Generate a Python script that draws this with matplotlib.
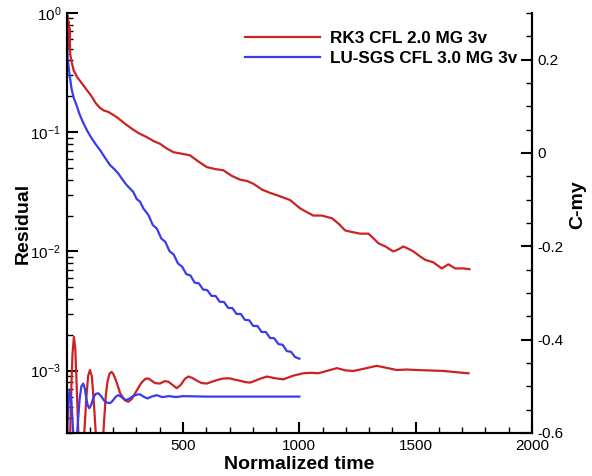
import matplotlib
matplotlib.use("Agg")
import matplotlib.pyplot as plt
from matplotlib.ticker import FixedLocator, LogLocator, MultipleLocator, FuncFormatter, NullFormatter, LogFormatterMathtext

plt.rcParams['font.family'] = ['Liberation Sans', 'DejaVu Sans']
plt.rcParams['mathtext.fontset'] = 'custom'
plt.rcParams['mathtext.rm'] = 'Liberation Sans'
plt.rcParams['mathtext.it'] = 'Liberation Sans'
plt.rcParams['mathtext.bf'] = 'Liberation Sans:bold'
plt.rcParams['axes.unicode_minus'] = False

# ---------------- data ----------------
rk3_res_t = [0, 2, 4, 6, 8, 10, 12, 15, 21, 30, 45, 60, 80, 107, 125, 143, 160, 179, 215, 250,
             280, 310, 344, 375, 401, 430, 459, 495, 530, 565, 602, 640, 673, 710, 745, 775,
             802, 840, 874, 917, 960, 1003, 1030, 1060, 1096, 1140, 1170, 1197, 1230, 1261, 1297,
             1320, 1340, 1370, 1404, 1425, 1447, 1470, 1490, 1515, 1541, 1576, 1612, 1641, 1670,
             1705, 1731]
rk3_res = [1.0, 0.55, 0.95, 0.6, 0.85, 0.5, 0.75, 0.45, 0.39, 0.33, 0.29, 0.265, 0.235, 0.20,
           0.175, 0.16, 0.152, 0.148, 0.134, 0.118, 0.107, 0.098, 0.091, 0.084, 0.080, 0.073,
           0.068, 0.066, 0.064, 0.057, 0.051, 0.049, 0.048, 0.043, 0.040, 0.039, 0.037, 0.033,
           0.031, 0.029, 0.027, 0.023, 0.0215, 0.020, 0.020, 0.019, 0.017, 0.015, 0.0145,
           0.0141, 0.0141, 0.0128, 0.0117, 0.0110, 0.0100, 0.0104, 0.0110, 0.0105, 0.0100,
           0.0092, 0.0085, 0.0081, 0.0072, 0.0078, 0.0072, 0.0072, 0.0071]

lusgs_res_t = [0, 2, 4, 10, 21, 30, 43, 55, 71, 88, 107, 125, 143, 165, 186, 205, 222, 240, 258,
               286, 301, 315, 330,
               352, 370, 388, 406, 424, 442, 460, 478, 496, 514, 532, 550, 568, 586, 604, 622,
               640, 658, 676, 694, 712, 730, 748, 766, 784, 802, 820, 838, 856, 874, 892, 910,
               928, 946, 964, 982, 1000]
lusgs_res = [0.9, 0.55, 0.42, 0.33, 0.23, 0.195, 0.167, 0.142, 0.12, 0.103, 0.089, 0.079, 0.071,
             0.061, 0.053, 0.049, 0.045, 0.040, 0.036, 0.0316, 0.0275, 0.0262, 0.0229,
             0.02009, 0.01667, 0.01549, 0.01288, 0.01202, 0.01005, 0.00942, 0.00794, 0.00746,
             0.00646, 0.00628, 0.00547, 0.00541, 0.00479, 0.00474, 0.00424, 0.00423, 0.00378,
             0.00377, 0.00336, 0.00335, 0.00299, 0.00299, 0.00267, 0.00265, 0.00237, 0.00237,
             0.00211, 0.00211, 0.00188, 0.00187, 0.00167, 0.00165, 0.00146, 0.00144, 0.00130,
             0.00126]

rk3_cmy_t = [0, 7, 14, 20, 25, 31, 37, 43, 50, 56, 68, 78, 85, 92, 100, 108, 116, 125, 133, 150,
             160, 168, 176, 184, 193, 202, 215, 230, 250, 265, 280, 300, 320, 338, 351, 365, 380,
             401, 420, 437, 455, 473, 490, 508, 523, 540, 560, 580, 602, 625, 650, 675, 702, 725,
             745, 768, 788, 810, 830, 860, 900, 931, 975, 1017, 1050, 1082, 1118, 1161, 1200,
             1233, 1280, 1333, 1380, 1419, 1460, 1505, 1560, 1619, 1680, 1727]
rk3_cmy = [-0.62, -0.68, -0.62, -0.50, -0.43, -0.394, -0.42, -0.50, -0.60, -0.66, -0.66, -0.58,
           -0.52, -0.478, -0.465, -0.478, -0.53, -0.60, -0.66, -0.66, -0.58, -0.52, -0.488,
           -0.473, -0.469, -0.475, -0.492, -0.515, -0.530, -0.533, -0.527, -0.51, -0.493,
           -0.484, -0.483, -0.488, -0.493, -0.494, -0.489, -0.490, -0.497, -0.504, -0.497,
           -0.484, -0.479, -0.482, -0.488, -0.493, -0.494, -0.490, -0.486, -0.483, -0.483,
           -0.486, -0.488, -0.491, -0.492, -0.488, -0.484, -0.479, -0.483, -0.485, -0.477,
           -0.472, -0.471, -0.472, -0.467, -0.461, -0.466, -0.467, -0.462, -0.456, -0.461,
           -0.465, -0.464, -0.465, -0.466, -0.467, -0.470, -0.472]

lusgs_cmy_t = [0, 5, 12, 20, 28, 36, 45, 55, 63, 71, 78, 84, 90, 97, 105, 115, 125, 136, 148, 160,
               173, 186, 196, 205, 214, 222, 231, 240, 249, 258, 271, 285, 300, 315, 330, 347,
               365, 387, 410, 440, 470, 500, 600, 700, 800, 900, 1000]
lusgs_cmy = [-0.64, -0.56, -0.508, -0.53, -0.60, -0.64, -0.60, -0.53, -0.50, -0.494, -0.505,
             -0.525, -0.54, -0.547, -0.54, -0.524, -0.516, -0.515, -0.521, -0.530, -0.535,
             -0.536, -0.532, -0.526, -0.521, -0.519, -0.521, -0.525, -0.528, -0.529, -0.526,
             -0.521, -0.518, -0.517, -0.522, -0.526, -0.522, -0.519, -0.523, -0.521, -0.523,
             -0.521, -0.522, -0.522, -0.522, -0.522, -0.522]

labels = ["RK3 CFL 2.0 MG 3v", "LU-SGS CFL 3.0 MG 3v"]
red = '#cc2222'
blue = '#3b3bee'

# ---------------- figure ----------------
fig = plt.figure(figsize=(5.92, 4.76), dpi=100)
ax = fig.add_axes([66.7 / 592, 1 - 433 / 476, (532 - 66.7) / 592, (433 - 13) / 476])
ax2 = ax.twinx()

ax.plot(rk3_res_t, rk3_res, color=red, lw=1.6)
ax.plot(lusgs_res_t, lusgs_res, color=blue, lw=1.6)
l1, = ax2.plot(rk3_cmy_t, rk3_cmy, color=red, lw=1.6)
l2, = ax2.plot(lusgs_cmy_t, lusgs_cmy, color=blue, lw=1.6)

ax.set_yscale('log')
ax.set_xlim(0, 2000)
ax.set_ylim(3e-4, 1.0)
ax2.set_ylim(-0.6, 0.3)

for a in (ax, ax2):
    a.spines['top'].set_visible(False)
    for s in a.spines.values():
        s.set_linewidth(1.5)

ax.xaxis.set_major_locator(FixedLocator([500, 1000, 1500, 2000]))
ax.xaxis.set_minor_locator(MultipleLocator(100))
ax.yaxis.set_major_locator(LogLocator(base=10, numticks=10))
ax.yaxis.set_minor_locator(LogLocator(base=10, subs=range(2, 10), numticks=20))
ax.yaxis.set_major_formatter(LogFormatterMathtext())
ax.yaxis.set_minor_formatter(NullFormatter())

ax2.yaxis.set_major_locator(FixedLocator([-0.6, -0.4, -0.2, 0.0, 0.2]))
ax2.yaxis.set_minor_locator(MultipleLocator(0.05))
ax2.yaxis.set_major_formatter(FuncFormatter(lambda v, p: '%g' % round(v, 2)))

ax.tick_params(axis='both', which='major', direction='in', length=8, width=1.5, labelsize=11, pad=4)
ax.tick_params(axis='both', which='minor', direction='in', length=4, width=1)
ax.tick_params(axis='x', which='both', top=False)
ax.tick_params(axis='y', which='both', right=False)
ax2.tick_params(axis='y', which='major', direction='in', length=8, width=1.5, labelsize=11, pad=4)
ax2.tick_params(axis='y', which='minor', direction='in', length=4, width=1)

ax.set_xlabel('Normalized time', fontsize=14, fontweight='bold')
ax.set_ylabel('Residual', fontsize=14, fontweight='bold')
ax2.set_ylabel('C-my', fontsize=14, fontweight='bold')
ax.xaxis.set_label_coords(0.5, -0.054)
ax.yaxis.set_label_coords(-0.075, 0.5)
ax2.yaxis.set_label_coords(1.079, 0.543)

ax2.legend([l1, l2], labels, loc='upper left', bbox_to_anchor=(245 / 592, 1 - 31 / 476),
           bbox_transform=fig.transFigure, frameon=False, prop={'weight': 'bold', 'size': 12.3},
           handlelength=4.4, handletextpad=0.55, labelspacing=0.27, borderpad=0, borderaxespad=0)

fig.savefig('out.png', dpi=100)
